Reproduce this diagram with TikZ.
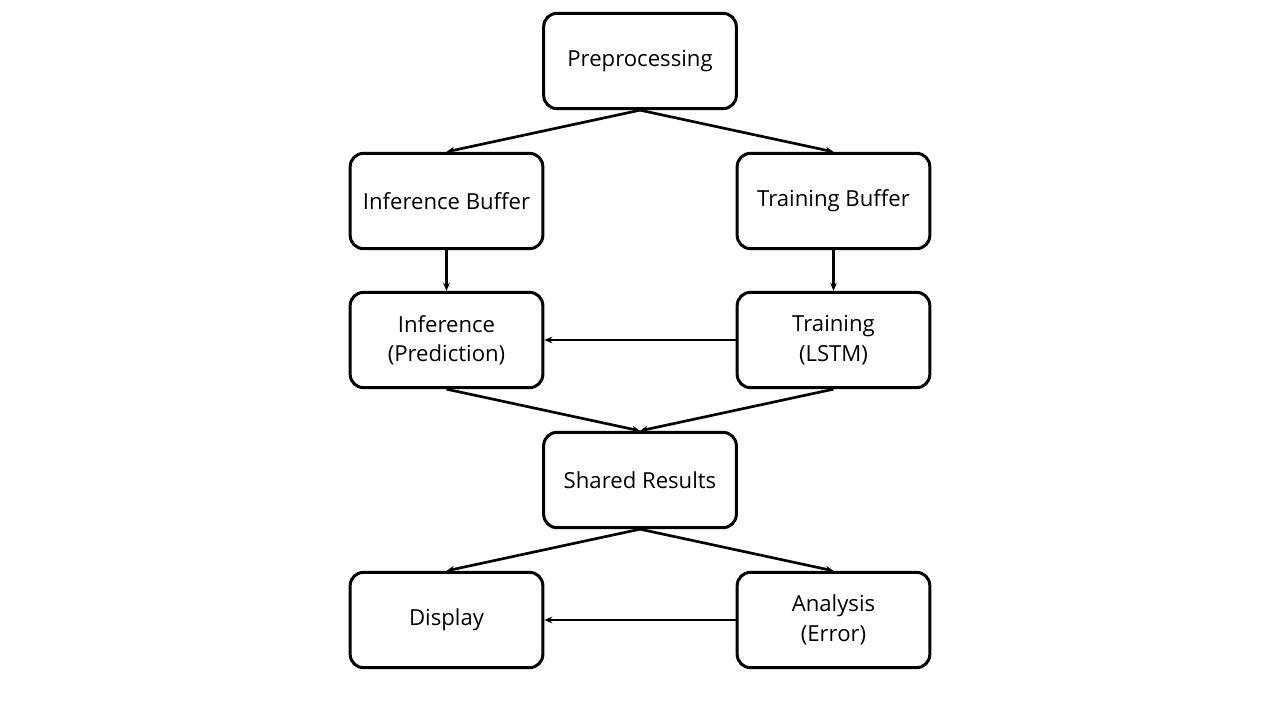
\documentclass[tikz,border=0pt]{standalone}
\usepackage{fontspec}
\setmainfont{Open Sans}
\usetikzlibrary{arrows.meta}
\begin{document}
\begin{tikzpicture}[x=0.75pt,y=-0.75pt,
  box/.style={draw=black,line width=2.25pt,rounded corners=10pt,minimum width=144.5pt,minimum height=71.5pt,align=center,font=\fontsize{16.6}{22}\selectfont,inner sep=0pt},
  conn/.style={line width=2pt,-{Stealth[length=6pt,width=5pt]}}]
\useasboundingbox (0,0) rectangle (1280,720);
\node[box] (pre) at (640,61) {Preprocessing};
\node[box] (ib) at (446.5,201) {Inference Buffer};
\node[box] (tb) at (833.5,201) {Training Buffer};
\node[box] (inf) at (446.5,340) {Inference\\(Prediction)};
\node[box] (tr) at (833.5,340) {Training\\(LSTM)};
\node[box] (sr) at (640,480) {Shared Results};
\node[box] (dis) at (446.5,620) {Display};
\node[box] (an) at (833.5,620) {Analysis\\(Error)};
\draw[conn] (pre.south) -- (ib.north);
\draw[conn] (pre.south) -- (tb.north);
\draw[conn] (ib.south) -- (inf.north);
\draw[conn] (tb.south) -- (tr.north);
\draw[conn] (tr.west) -- (inf.east);
\draw[conn] (inf.south) -- (sr.north);
\draw[conn] (tr.south) -- (sr.north);
\draw[conn] (sr.south) -- (dis.north);
\draw[conn] (sr.south) -- (an.north);
\draw[conn] (an.west) -- (dis.east);
\end{tikzpicture}
\end{document}
